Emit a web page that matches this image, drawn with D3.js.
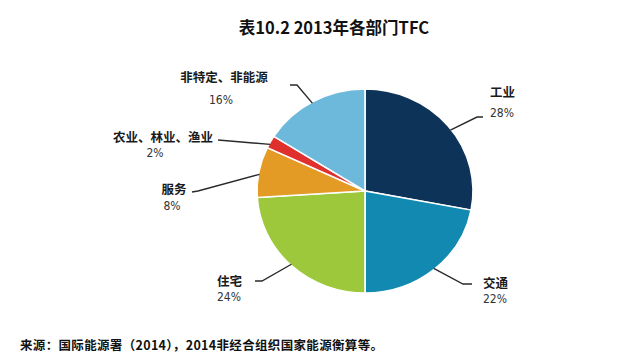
<!DOCTYPE html>
<html lang="zh">
  <head>
    <meta charset="utf-8" />
    <title>表10.2 2013年各部门TFC</title>
    <script src="https://d3js.org/d3.v7.js"></script>
    <style>
      body { margin: 0; background: #fff; }
      text { font-family: "Noto Sans CJK SC", sans-serif; }
      .pct { font-family: "Liberation Sans Narrow", "DejaVu Sans Condensed", sans-serif; }
    </style>
  </head>
  <body>
    <div id="graph"></div>
    <script>

    // data
    var sectors = ["工业", "交通", "住宅", "服务", "农业、林业、渔业", "非特定、非能源"];
    var shares = [28, 22, 24, 8, 2, 16];
    var colors = ["#0d3458", "#1189b0", "#9ec83c", "#e49b26", "#e0302e", "#6cb9dc"];

    // label layout: leader start angle (deg, clockwise from top), leader bend points, label spot
    var leaderAngle = [53, 140, 223.5, 279.5, 297.5, 330.5];
    var leaderPts = [
      [[477, 117], [483, 117]],
      [[463, 284], [472, 284]],
      [[262, 281], [255, 281]],
      [[198, 191], [192, 192]],
      [[218, 140]],
      [[297, 85], [290, 85]]
    ];
    var labelX = [490, 483, 217, 174, 163, 224];
    var labelY = [97, 288, 286, 193.5, 141.5, 81.5];
    var pctX = [490, 483, 217, 172, 155, 221];
    var pctY = [117, 302.5, 300.5, 210, 157, 104];
    var anchors = ["start", "start", "start", "middle", "middle", "middle"];

    var w = 644, h = 358;
    var cx = 365, cy = 191, rx = 108, ry = 102;

    var svg = d3.select("#graph")
      .append("svg")
        .attr("width", w)
        .attr("height", h);

    // title
    svg.append("text")
      .attr("x", 334)
      .attr("y", 34)
      .attr("text-anchor", "middle")
      .attr("font-size", 16.5)
      .attr("font-weight", "bold")
      .attr("fill", "#111")
      .text("表10.2 2013年各部门TFC");

    var pie = d3.pie().sort(null).value(d => d);
    var arc = d3.arc().innerRadius(0).outerRadius(ry);

    var g = svg.append("g")
      .attr("transform", `translate(${cx},${cy}) scale(${rx / ry},1)`);

    g.selectAll("path")
      .data(pie(shares))
      .join("path")
        .attr("d", arc)
        .attr("fill", (d, i) => colors[i])
        .attr("stroke", "#fff")
        .attr("stroke-width", 1.5);

    // leader lines
    var line = d3.line();
    sectors.forEach(function (s, i) {
      var a = leaderAngle[i] * Math.PI / 180;
      var start = [cx + Math.sin(a) * rx * 0.99, cy - Math.cos(a) * ry * 0.99];
      svg.append("path")
        .attr("d", line([start].concat(leaderPts[i])))
        .attr("fill", "none")
        .attr("stroke", "#2a2a2a")
        .attr("stroke-width", 1.4);
    });

    // labels
    svg.selectAll("text.lab")
      .data(sectors)
      .join("text")
        .attr("class", "lab")
        .attr("x", (d, i) => labelX[i])
        .attr("y", (d, i) => labelY[i])
        .attr("text-anchor", (d, i) => anchors[i])
        .attr("font-size", 12.5)
        .attr("font-weight", "bold")
        .attr("fill", "#1a1a1a")
        .text(d => d);

    svg.selectAll("text.pct")
      .data(shares)
      .join("text")
        .attr("class", "pct")
        .attr("x", (d, i) => pctX[i])
        .attr("y", (d, i) => pctY[i])
        .attr("text-anchor", (d, i) => anchors[i])
        .attr("font-size", 12)
        .attr("fill", "#333")
        .text(d => d + "%");

    // source note
    svg.append("text")
      .attr("x", 20)
      .attr("y", 349.5)
      .attr("font-size", 12.5)
      .attr("font-weight", "bold")
      .attr("fill", "#111")
      .attr("textLength", 363)
      .attr("lengthAdjust", "spacing")
      .text("来源：国际能源署（2014），2014非经合组织国家能源衡算等。");

    </script>
  </body>
</html>
